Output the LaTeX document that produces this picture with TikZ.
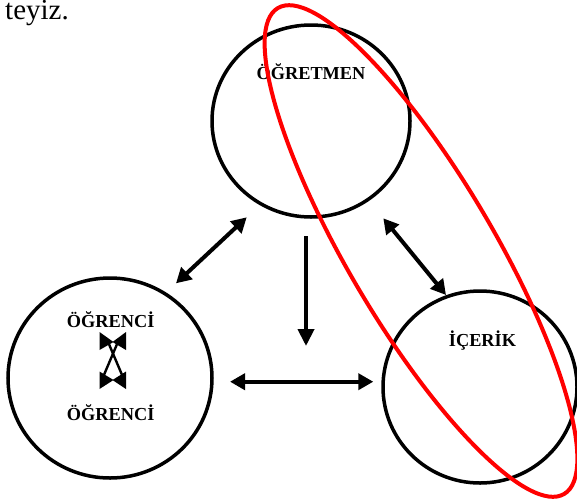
\documentclass[tikz,border=0pt]{standalone}
\usepackage{fontspec}
\setmainfont{Liberation Serif}
\usetikzlibrary{arrows.meta,shapes.geometric}

\begin{document}
\begin{tikzpicture}[x=1pt,y=-1pt,
  ring/.style={draw=black,line width=3.5pt,ellipse,inner sep=0pt},
  tag/.style={anchor=base,font=\fontsize{18.3}{22}\selectfont\bfseries},
  link/.style={line width=4pt,
    {Triangle[length=15pt,width=16pt]}-{Triangle[length=15pt,width=16pt]}},
  oneway/.style={line width=4pt,-{Triangle[length=17pt,width=16pt]}},
  hint/.style={draw=red,line width=4pt},
]
% page frame
\useasboundingbox (0,0) rectangle (577,501);
\clip (0,0) rectangle (577,501);
\fill[white] (0,0) rectangle (577,501);

% end of the preceding sentence
\node[anchor=base east,inner sep=0pt,font=\fontsize{29}{33}\selectfont] (tail) at (69,19.5) {teyiz.};

% the three actors
\node[ring,minimum width=198pt,minimum height=192pt] (teacher) at (311,121) {};
\node[ring,minimum width=204pt,minimum height=200pt] (learner) at (110,378) {};
\node[ring,minimum width=194pt,minimum height=192pt] (content) at (480,387) {};

\node[tag] (teachertxt) at (311,79) {ÖĞRETMEN};
\node[tag] (contenttxt) at (482.5,346) {İÇERİK};
\node[tag] (learnertxtA) at (110.7,327) {ÖĞRENCİ};
\node[tag] (learnertxtB) at (110.7,420) {ÖĞRENCİ};

% arrow end points
\coordinate (tlA) at (246.7,217.3);
\coordinate (tlB) at (176,283.3);
\coordinate (trA) at (383.3,218.3);
\coordinate (trB) at (446,295);
\coordinate (vA) at (306,236);
\coordinate (vB) at (306,346);
\coordinate (hA) at (230,381.7);
\coordinate (hB) at (373.3,381.7);

\draw[link] (tlA) -- (tlB);
\draw[link] (trA) -- (trB);
\draw[oneway] (vA) -- (vB);
\draw[link] (hA) -- (hB);

% crossed arrows between the two learners
\coordinate (xa) at (108.5,343);
\coordinate (xb) at (122.5,376);
\coordinate (xc) at (117.5,343);
\coordinate (xd) at (103.5,376);
\draw[line width=2.4pt] (xa) -- (xb);
\draw[line width=2.4pt] (xc) -- (xd);
\fill (99.5,332) -- (113.5,342) -- (99.5,350) -- cycle;
\fill (126,332) -- (112.5,342) -- (126,350) -- cycle;
\fill (99.5,371.5) -- (113.5,380) -- (99.5,389) -- cycle;
\fill (126,371.5) -- (112.5,380) -- (126,389) -- cycle;

% red emphasis loop around teacher and content
\draw[hint,rotate around={-59.5:(421,251)}] (421,251) ellipse [x radius=282pt,y radius=73pt];
\end{tikzpicture}
\end{document}
